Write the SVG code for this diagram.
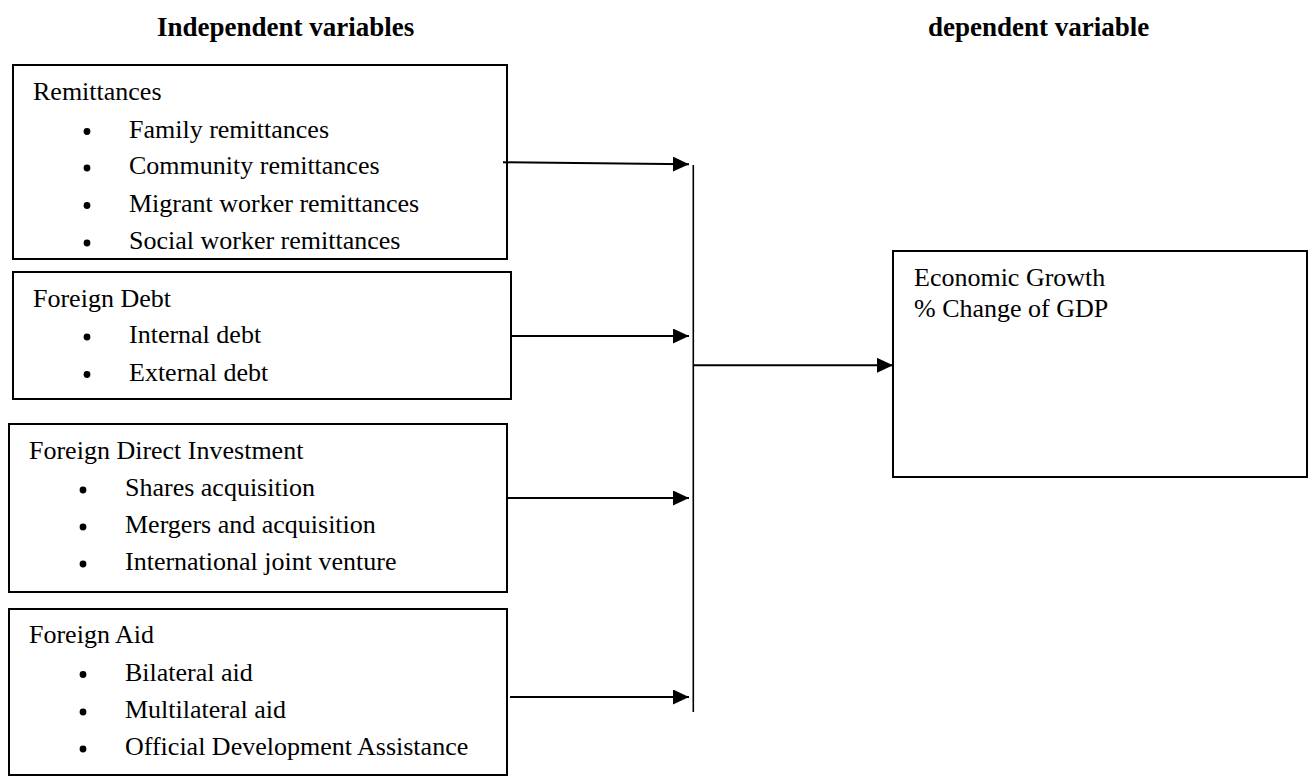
<svg xmlns="http://www.w3.org/2000/svg" width="1312" height="778" viewBox="0 0 1312 778">
<defs>
<style>
.box{fill:#fff;stroke:#000;stroke-width:2}
.t{font-family:"Liberation Serif","Times New Roman",serif;font-size:26px;fill:#000}
.h{font-family:"Liberation Serif","Times New Roman",serif;font-size:27px;font-weight:bold;fill:#000}
.conn{stroke:#000;stroke-width:2;fill:none}
.bus{stroke:#000;stroke-width:1.6;fill:none}
</style>
<marker id="ah" markerWidth="16" markerHeight="15" refX="16" refY="7.5" orient="auto" markerUnits="userSpaceOnUse">
<path d="M0,0 L16,7.5 L0,15 Z" fill="#000"/>
</marker>
</defs>
<rect width="1312" height="778" fill="#fff"/>
<g id="headers">
<text class="h" x="157" y="36">Independent variables</text>
<text class="h" x="928" y="36">dependent variable</text>
</g>
<g id="remittances">
<rect class="box" x="13" y="65" width="494" height="194"/>
<text class="t" x="33" y="100">Remittances</text>
<circle cx="87" cy="131.5" r="3.4"/><text class="t" x="129" y="137.5">Family remittances</text>
<circle cx="87" cy="168" r="3.4"/><text class="t" x="129" y="174">Community remittances</text>
<circle cx="87" cy="205.5" r="3.4"/><text class="t" x="129" y="211.5">Migrant worker remittances</text>
<circle cx="87" cy="243" r="3.4"/><text class="t" x="129" y="249">Social worker remittances</text>
</g>
<g id="foreign-debt">
<rect class="box" x="13" y="272" width="498" height="127"/>
<text class="t" x="33" y="306.5">Foreign Debt</text>
<circle cx="87" cy="337" r="3.4"/><text class="t" x="129" y="343">Internal debt</text>
<circle cx="87" cy="374.5" r="3.4"/><text class="t" x="129" y="380.5">External debt</text>
</g>
<g id="fdi">
<rect class="box" x="9" y="424" width="498" height="168"/>
<text class="t" x="29" y="459">Foreign Direct Investment</text>
<circle cx="83" cy="490" r="3.4"/><text class="t" x="125" y="496">Shares acquisition</text>
<circle cx="83" cy="527" r="3.4"/><text class="t" x="125" y="533">Mergers and acquisition</text>
<circle cx="83" cy="564" r="3.4"/><text class="t" x="125" y="570">International joint venture</text>
</g>
<g id="foreign-aid">
<rect class="box" x="9" y="609" width="498" height="166"/>
<text class="t" x="29" y="643">Foreign Aid</text>
<circle cx="83" cy="674.5" r="3.4"/><text class="t" x="125" y="680.5">Bilateral aid</text>
<circle cx="83" cy="712" r="3.4"/><text class="t" x="125" y="718">Multilateral aid</text>
<circle cx="83" cy="749" r="3.4"/><text class="t" x="125" y="755">Official Development Assistance</text>
</g>
<g id="economic-growth">
<rect class="box" x="893" y="251" width="414" height="226"/>
<text class="t" x="914" y="286">Economic Growth</text>
<text class="t" x="914" y="317">% Change of GDP</text>
</g>
<g id="connectors">
<line class="conn" x1="503" y1="162.3" x2="689" y2="164.3" marker-end="url(#ah)"/>
<line class="conn" x1="511" y1="336" x2="689" y2="336" marker-end="url(#ah)"/>
<line class="conn" x1="508" y1="498" x2="689" y2="498" marker-end="url(#ah)"/>
<line class="conn" x1="510" y1="697" x2="689" y2="697" marker-end="url(#ah)"/>
<line class="bus" x1="693.3" y1="165" x2="693.3" y2="712"/>
<line class="conn" x1="693" y1="365.3" x2="893" y2="365.3" marker-end="url(#ah)"/>
</g>
</svg>
